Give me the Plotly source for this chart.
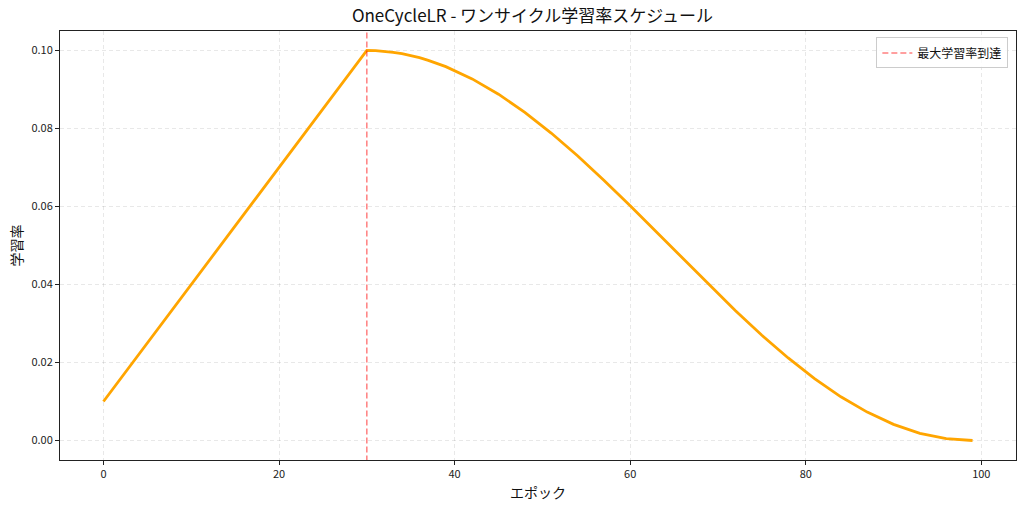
import plotly.graph_objects as go

# Learning-rate values
epochs = [0, 3, 6, 9, 12, 15, 18, 21, 24, 27, 30,
          31, 32, 33, 34, 35, 36, 37, 38, 39, 42, 45, 48, 51, 54, 57, 60, 63, 66,
          69, 72, 75, 78, 81, 84, 87, 90, 93, 96, 99]
lr_values = [0.010, 0.019, 0.028, 0.037, 0.046, 0.055, 0.064, 0.073, 0.082, 0.091, 0.100,
             0.09995, 0.09979, 0.09953, 0.09917, 0.09871, 0.09815, 0.09748, 0.09672, 0.09586,
             0.09272, 0.08879, 0.08413, 0.07883, 0.07300, 0.06674,
             0.06017, 0.05341, 0.04659, 0.03983, 0.03326, 0.02700, 0.02117, 0.01587, 0.01121,
             0.00728, 0.00414, 0.00185, 0.00047, 0.00000]
peak_epoch = 30
title_text = "OneCycleLR - ワンサイクル学習率スケジュール"
x_title = "エポック"
y_title = "学習率"
legend_label = "最大学習率到達"
x_ticks = [0, 20, 40, 60, 80, 100]
y_ticks = [0.00, 0.02, 0.04, 0.06, 0.08, 0.10]

FONT = "Noto Sans CJK JP"

fig = go.Figure()
fig.add_trace(go.Scatter(
    x=epochs, y=lr_values, mode="lines",
    line=dict(color="#FFA500", width=2.8),
    showlegend=False, hoverinfo="x+y",
))
fig.add_trace(go.Scatter(
    x=[peak_epoch, peak_epoch], y=[-1, 1], mode="lines",
    line=dict(color="rgba(255,0,0,0.5)", width=1.5, dash="6px,3px"),
    name=legend_label, showlegend=True,
))

axis_common = dict(
    showline=True, linecolor="#222", linewidth=1, mirror=True,
    ticks="outside", ticklen=4, tickcolor="#222",
    showgrid=True, gridcolor="rgba(0,0,0,0.09)", griddash="4px,3px", gridwidth=1,
    zeroline=False, tickfont=dict(family=FONT, size=11, color="#222"),
    automargin=False,
)

fig.update_layout(
    width=1024, height=508,
    margin=dict(l=60, r=8, t=31, b=48),
    paper_bgcolor="white", plot_bgcolor="white",
    font=dict(family=FONT, color="#111"),
    title=dict(text=title_text, x=0.52, xanchor="center", y=1 - 16.5 / 508, yanchor="middle",
               font=dict(family=FONT, size=17, color="#111"), automargin=False),
    xaxis=dict(range=[-4.95, 103.95], tickvals=x_ticks, **axis_common),
    yaxis=dict(range=[-0.005, 0.105], tickvals=y_ticks, tickformat=".2f", **axis_common),
    legend=dict(x=0.992, y=0.985, xanchor="right", yanchor="top",
                bgcolor="rgba(255,255,255,0.8)", bordercolor="#ccc", borderwidth=1,
                font=dict(family=FONT, size=12, color="#111")),
    annotations=[
        dict(text=x_title, xref="paper", yref="paper", x=0.5, y=0, yshift=-32,
             xanchor="center", yanchor="middle", showarrow=False,
             font=dict(family=FONT, size=14, color="#111")),
        dict(text=y_title, xref="paper", yref="paper", x=0, y=0.5, xshift=-45,
             xanchor="center", yanchor="middle", textangle=-90, showarrow=False,
             font=dict(family=FONT, size=14, color="#111")),
    ],
)

fig.write_html("out.html", config={"displayModeBar": False},
               post_script="document.body.style.margin='0';")
